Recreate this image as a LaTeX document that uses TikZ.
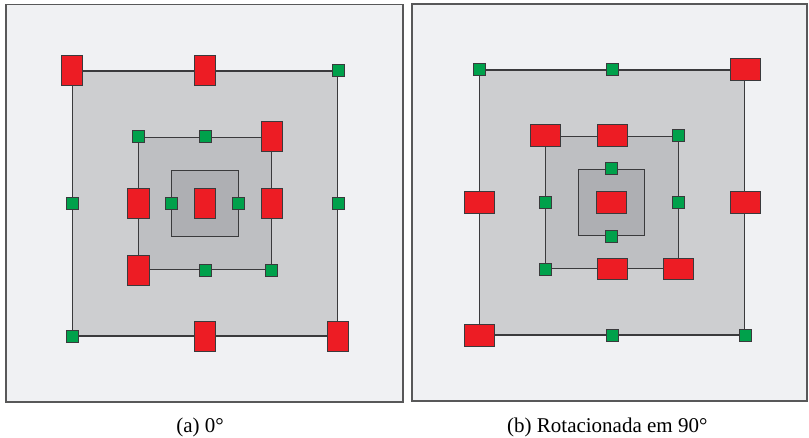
\documentclass[tikz,border=0pt]{standalone}
\usepackage{fontspec}
\setmainfont{Liberation Serif}
\definecolor{paper}{RGB}{240,241,243}
\definecolor{ringa}{RGB}{205,206,208}
\definecolor{ringb}{RGB}{190,191,194}
\definecolor{ringc}{RGB}{174,175,179}
\definecolor{edge}{RGB}{58,58,60}
\definecolor{cellred}{RGB}{237,28,36}
\definecolor{cellgreen}{RGB}{0,161,75}
\begin{document}
\begin{tikzpicture}[x=1pt,y=-1pt,
 frame/.style={draw=edge!85,line width=1.3pt,fill=paper,inner sep=0pt},
 ring/.style={draw=edge,line width=1.1pt,inner sep=0pt,minimum size=#1},
 cellv/.style={draw=edge,line width=.9pt,fill=cellred,inner sep=0pt,minimum width=21.5pt,minimum height=30pt},
 cellh/.style={cellv,minimum width=30pt,minimum height=21.5pt},
 via/.style={draw=edge,line width=.9pt,fill=cellgreen,inner sep=0pt,minimum size=12pt},
 subcap/.style={font=\fontsize{21}{25}\selectfont,anchor=base,inner sep=0pt}]
\useasboundingbox (0,0) rectangle (809,437);
% (a) 0 graus
\node[frame,minimum width=397pt,minimum height=397.5pt] (fa) at (204.5,203.3) {};
\node[ring=265pt,fill=ringa] (A) at (205,203.5) {};
\node[ring=132.5pt,fill=ringb] (B) at (205,203.3) {};
\node[ring=66.25pt,fill=ringc] (C) at (205,203.3) {};
\foreach \anc/\kind [count=\i] in {north west/cellv,north/cellv,north east/via,west/via,east/via,south west/via,south/cellv,south east/cellv}
  \node[\kind] (a\i) at (A.\anc) {};
\foreach \anc/\kind [count=\i] in {north west/via,north/via,north east/cellv,west/cellv,east/cellv,south west/cellv,south/via,south east/via}
  \node[\kind] (b\i) at (B.\anc) {};
\foreach \anc/\kind [count=\i] in {west/via,east/via,center/cellv}
  \node[\kind] (c\i) at (C.\anc) {};
\node[subcap] (capa) at (200,432) {(a) 0°};
% (b) rotacionada em 90 graus
\node[frame,minimum width=395pt,minimum height=397pt] (fb) at (609.5,202.5) {};
\node[ring=265pt,fill=ringa] (A2) at (612,202.5) {};
\node[ring=132.5pt,fill=ringb] (B2) at (612,202.3) {};
\node[ring=66.25pt,fill=ringc] (C2) at (611.5,202.5) {};
\foreach \anc/\kind [count=\i] in {north west/via,north/via,north east/cellh,west/cellh,east/cellh,south west/cellh,south/via,south east/via}
  \node[\kind] (d\i) at (A2.\anc) {};
\foreach \anc/\kind [count=\i] in {north west/cellh,north/cellh,north east/via,west/via,east/via,south west/via,south/cellh,south east/cellh}
  \node[\kind] (e\i) at (B2.\anc) {};
\foreach \anc/\kind [count=\i] in {north/via,south/via,center/cellh}
  \node[\kind] (f\i) at (C2.\anc) {};
\node[subcap] (capb) at (607.3,432) {(b) Rotacionada em 90°};
\end{tikzpicture}
\end{document}
